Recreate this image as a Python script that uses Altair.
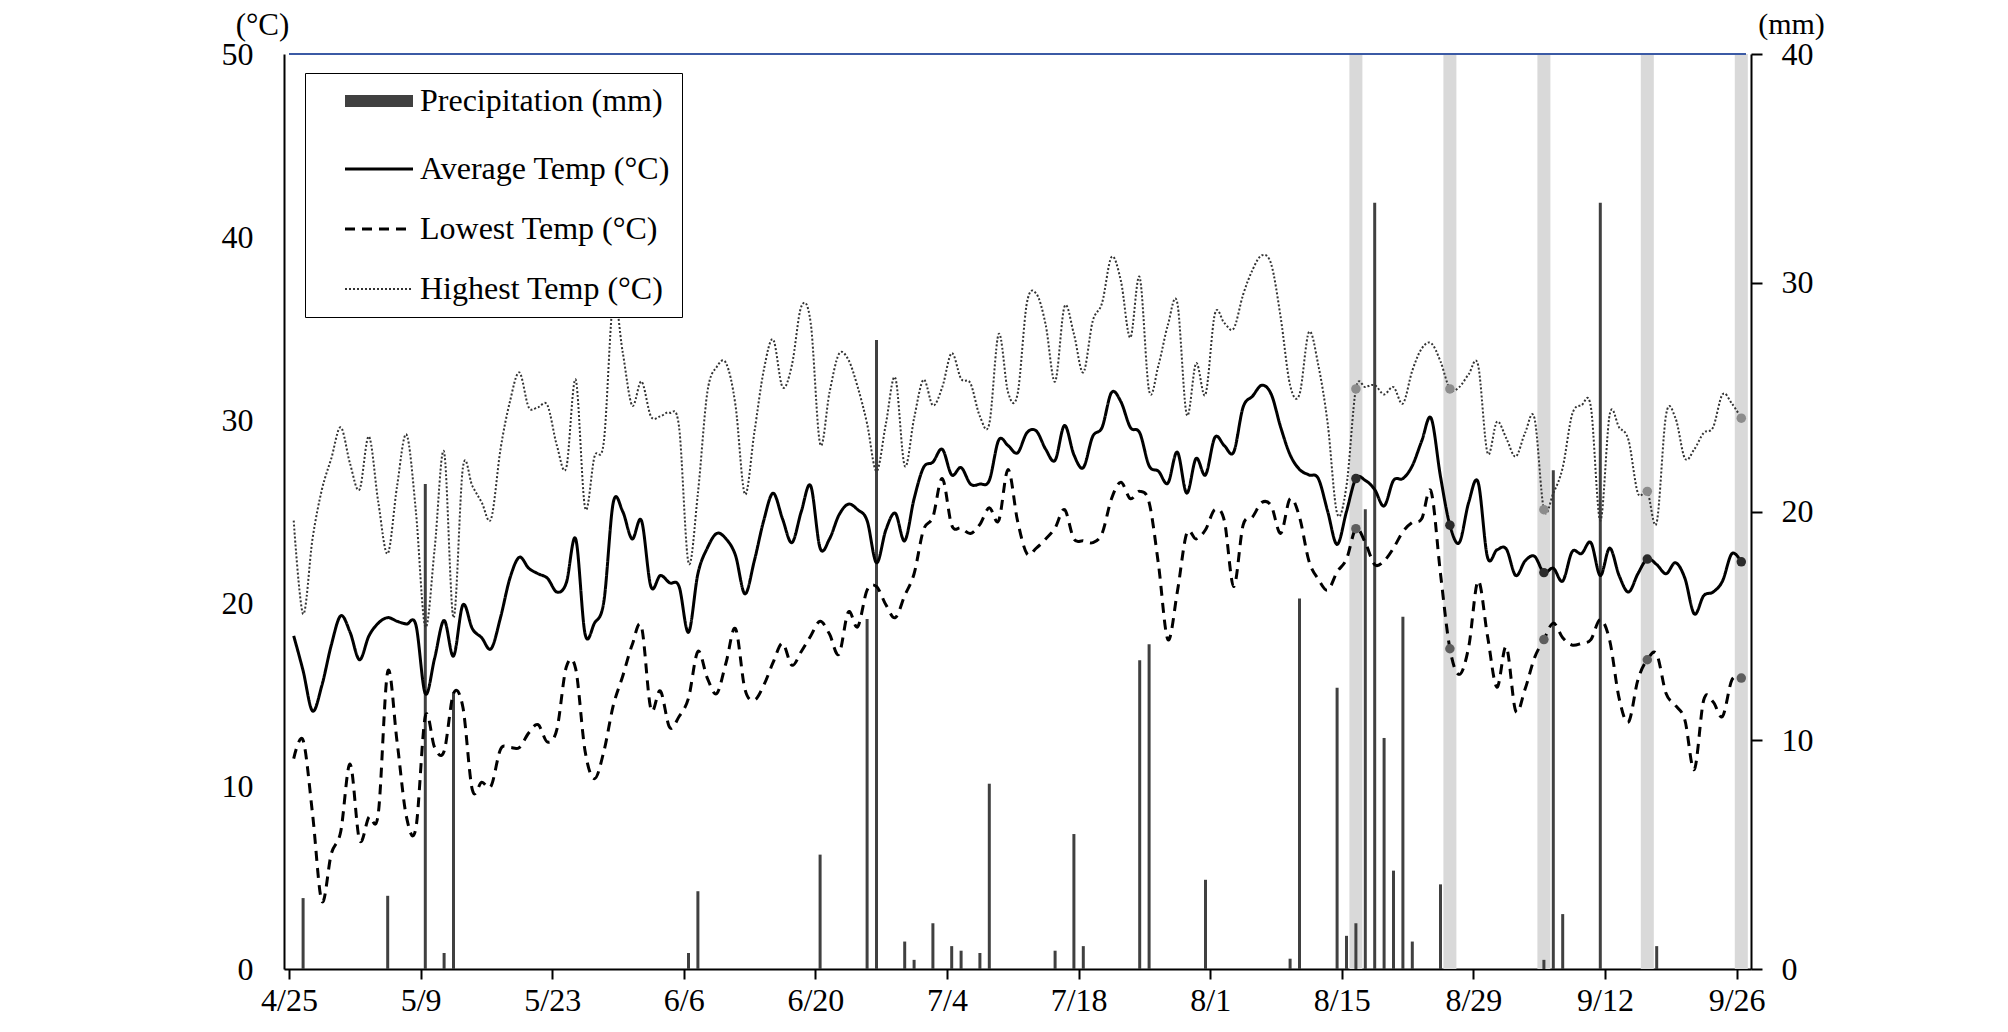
import json
import altair as alt
import pandas as pd

FONT = "Liberation Serif"

tick_labels = ["4/25", "5/9", "5/23", "6/6", "6/20", "7/4", "7/18", "8/1",
               "8/15", "8/29", "9/12", "9/26"]

series_names = ["Precipitation (mm)", "Average Temp (°C)",
                "Lowest Temp (°C)", "Highest Temp (°C)"]

# daily values from 4/25 (index 0) to 9/26 (index 154)
high_temp = [
    24.5, 19.4, 23.5, 26.2, 27.9, 29.6, 27.6, 26.2, 29.1, 25.5,
    22.7, 26.4, 29.2, 25.0, 18.7, 23.0, 28.25, 19.2, 27.4, 26.4,
    25.5, 24.6, 28.4, 31.0, 32.6, 30.7, 30.7, 30.8, 28.6, 27.4,
    32.2, 25.2, 28.0, 28.85, 36.6, 33.7, 30.8, 32.1, 30.2, 30.2,
    30.4, 29.6, 22.2, 26.0, 31.5, 32.9, 33.1, 30.8, 25.95, 29.3,
    32.7, 34.4, 31.8, 33.0, 36.2, 35.3, 28.7, 31.5, 33.6, 33.3,
    31.8, 29.8, 27.2, 29.8, 32.3, 27.5, 30.1, 32.2, 30.8, 31.8,
    33.65, 32.25, 32.0, 30.2, 29.8, 34.7, 31.5, 31.4, 36.4, 36.9,
    35.2, 32.1, 36.2, 34.7, 32.6, 35.4, 36.4, 38.9, 37.6, 34.5,
    37.8, 31.6, 33.0, 35.2, 36.4, 30.3, 33.1, 31.4, 35.8, 35.3,
    35.0, 36.85, 38.2, 39.0, 38.5, 35.6, 31.9, 31.4, 34.8, 33.0,
    29.8, 24.9, 26.4, 31.7, 31.8, 31.9, 31.4, 31.8, 30.9, 32.7,
    33.9, 34.2, 33.2, 31.7, 31.8, 32.5, 33.0, 28.2, 29.9, 29.0,
    28.0, 29.3, 30.1, 25.1, 26.0, 27.4, 30.3, 30.8, 30.7, 24.5,
    30.3, 29.6, 28.9, 26.0, 26.1, 24.4, 30.3, 30.1, 27.9, 28.4,
    29.3, 29.6, 31.4, 30.9, 30.1,
]

avg_temp = [
    18.2, 16.3, 14.1, 15.5, 17.7, 19.3, 18.4, 16.9, 18.2, 18.9,
    19.2, 19.0, 18.85, 18.8, 15.05, 17.0, 19.05, 17.1, 19.9, 18.6,
    18.1, 17.5, 19.2, 21.35, 22.5, 21.9, 21.6, 21.35, 20.6, 21.1,
    23.5, 18.3, 18.9, 20.1, 25.5, 25.0, 23.5, 24.5, 20.9, 21.5,
    21.1, 20.9, 18.4, 21.6, 23.0, 23.8, 23.5, 22.6, 20.5, 22.3,
    24.5, 26.0, 24.6, 23.3, 25.0, 26.4, 23.0, 23.5, 24.8, 25.4,
    25.1, 24.5, 22.2, 24.0, 24.9, 23.4, 25.7, 27.4, 27.7, 28.4,
    27.0, 27.4, 26.5, 26.5, 26.7, 28.9, 28.6, 28.2, 29.3, 29.4,
    28.4, 27.8, 29.7, 28.1, 27.4, 29.1, 29.6, 31.5, 31.0, 29.6,
    29.3, 27.5, 27.2, 26.55, 28.25, 26.0, 27.9, 27.0, 29.05, 28.6,
    28.25, 30.7, 31.3, 31.9, 31.4, 29.6, 28.1, 27.3, 27.0, 26.8,
    25.0, 23.2, 25.0, 26.8, 26.7, 26.2, 25.3, 26.7, 26.8, 27.5,
    28.85, 30.1, 26.9, 24.25, 23.3, 25.5, 26.6, 22.5, 22.9, 22.95,
    21.5, 22.3, 22.55, 21.66, 21.9, 21.2, 22.8, 22.7, 23.3, 21.5,
    23.0, 21.5, 20.6, 21.6, 22.4, 22.1, 21.6, 22.2, 21.35, 19.4,
    20.4, 20.6, 21.2, 22.7, 22.25,
]

low_temp = [
    11.5, 12.5, 8.5, 3.7, 6.3, 7.5, 11.2, 7.05, 8.3, 8.5,
    16.25, 12.4, 8.3, 7.7, 13.8, 12.1, 11.9, 15.05, 14.3, 9.8,
    10.2, 10.0, 12.0, 12.1, 12.1, 12.9, 13.35, 12.4, 13.1, 16.5,
    16.4, 11.9, 10.4, 11.9, 14.4, 16.0, 17.7, 18.7, 14.2, 15.2,
    13.2, 13.8, 14.8, 17.35, 15.9, 15.05, 16.75, 18.6, 15.3, 14.7,
    15.5, 16.75, 17.8, 16.6, 17.35, 18.2, 19.0, 18.3, 17.2, 19.5,
    18.7, 20.7, 20.9, 19.9, 19.2, 20.4, 21.6, 24.0, 24.7, 26.8,
    24.25, 24.1, 23.8, 24.3, 25.2, 24.5, 27.3, 24.5, 22.7, 23.0,
    23.5, 24.1, 25.1, 23.5, 23.4, 23.3, 23.8, 25.7, 26.6, 25.7,
    26.1, 25.5, 22.1, 18.0, 20.6, 23.8, 23.5, 24.0, 25.1, 24.5,
    20.9, 24.25, 24.7, 25.5, 25.3, 23.8, 25.7, 24.7, 22.3, 21.3,
    20.7, 21.7, 22.4, 24.06, 23.3, 22.1, 22.3, 23.0, 23.9, 24.4,
    24.6, 26.1, 21.6, 17.5, 16.1, 17.6, 21.2, 18.2, 15.4, 17.6,
    14.1, 15.3, 17.0, 18.0, 18.9, 18.1, 17.7, 17.8, 18.0, 19.1,
    17.95, 14.8, 13.5, 15.8, 16.9, 17.2, 15.05, 14.4, 13.6, 10.9,
    14.7, 14.6, 13.8, 15.8, 15.9,
]

# precipitation: day index (from 4/25) and amount in mm
precip_day = [1, 10, 14, 16, 17, 42, 43, 56, 61, 62,
              65, 66, 68, 70, 71, 73, 74, 81, 83, 84,
              90, 91, 97, 106, 107, 111, 112, 113, 114, 115,
              116, 117, 118, 119, 122, 133, 134, 135, 139, 145]
precip_mm = [3.1, 3.2, 21.2, 0.7, 12.1, 0.7, 3.4, 5.0, 15.3, 27.5,
             1.2, 0.4, 2.0, 1.0, 0.8, 0.7, 8.1, 0.8, 5.9, 1.0,
             13.5, 14.2, 3.9, 0.45, 16.2, 12.3, 1.45, 2.0, 20.1, 33.5,
             10.1, 4.3, 15.4, 1.2, 3.7, 0.4, 21.8, 2.4, 33.5, 1.0]

# sampling days (grey bands with markers)
sample_days = [113, 123, 133, 144, 154]

# ---------------------------------------------------------------- tables
rows = []
for name, vals in [(series_names[1], avg_temp),
                   (series_names[2], low_temp),
                   (series_names[3], high_temp)]:
    for d, v in enumerate(vals):
        rows.append({"day": d + 0.5, "series": name, "temp": v})
temp_df = pd.DataFrame(rows)
precip_df = pd.DataFrame({"day": [d + 0.5 for d in precip_day], "mm": precip_mm})
band_df = pd.DataFrame({"day": [d + 0.5 for d in sample_days]})
dots_df = temp_df[temp_df["day"].isin(band_df["day"])]
frame_df = pd.DataFrame({"one": [1]})

label_expr = json.dumps(tick_labels) + "[round(datum.value / 14)]"

x_scale = alt.Scale(domain=[0, 155], nice=False, zero=False)
x_axis = alt.Axis(values=list(range(0, 155, 14)), labelExpr=label_expr,
                  title=None, tickSize=10, labelPadding=6,
                  labelFlush=False, labelOverlap=False, orient="bottom")
x_main = alt.X("day:Q", scale=x_scale, axis=x_axis)

t_scale = alt.Scale(domain=[0, 50], nice=False, zero=True)
t_axis = alt.Axis(orient="left", values=[0, 10, 20, 30, 40, 50],
                  title="(°C)", titleAngle=0, titleX=-22, titleY=-44,
                  titleAlign="center", titleBaseline="top", titleFontSize=31,
                  tickSize=0, labelPadding=31, labelFlush=False)
y_temp = alt.Y("temp:Q", scale=t_scale, axis=t_axis)

NB = "\u00a0"
legend = alt.Legend(
    title=None, orient="none", legendX=21, legendY=19,
    labelExpr="datum.label + '" + NB * 5 + "'", labelLimit=700,
    symbolType="M-3.4,0H3.4", symbolSize=400, symbolOffset=46,
    labelOffset=25, rowPadding=28, padding=12,
    strokeColor="black", fillColor="white",
    labelFont=FONT, labelFontSize=32, labelColor="black",
)

# ---------------------------------------------------------------- layers
bands = alt.Chart(band_df).mark_bar(color="#d9d9d9", size=13).encode(
    x=x_main,
    y=alt.Y(datum=50, scale=alt.Scale(domain=[0, 50], nice=False), axis=None),
    y2=alt.Y2(datum=0),
)

precip = alt.Chart(precip_df).mark_bar(color="#404040", size=3).encode(
    x=x_main,
    y=alt.Y("mm:Q", scale=alt.Scale(domain=[0, 40], nice=False),
            axis=alt.Axis(orient="right", values=[0, 10, 20, 30, 40],
                          title="(mm)", titleAngle=0, titleX=40, titleY=-45,
                          titleAlign="center", titleBaseline="top", titleFontSize=30,
                          tickSize=11, labelPadding=19, labelFlush=False)),
)

lines = alt.Chart(temp_df).mark_line(interpolate="cardinal").encode(
    x=x_main,
    y=y_temp,
    color=alt.Color("series:N",
                    scale=alt.Scale(domain=series_names,
                                    range=["#404040", "#000000", "#000000", "#333333"]),
                    legend=legend),
    strokeDash=alt.StrokeDash("series:N",
                              scale=alt.Scale(domain=series_names,
                                              range=[[1, 0], [1, 0], [10, 7], [2, 2]]),
                              legend=legend),
    strokeWidth=alt.StrokeWidth("series:N",
                                scale=alt.Scale(type="ordinal", domain=series_names,
                                                range=[12, 3, 3, 2]),
                                legend=legend),
)

dot_colors = {series_names[1]: "#2b2b2b", series_names[2]: "#5e5e5e",
              series_names[3]: "#8c8c8c"}
dot_layers = []
for name, col in dot_colors.items():
    dot_layers.append(
        alt.Chart(dots_df[dots_df["series"] == name]).mark_circle(
            color=col, size=90, opacity=1).encode(x=x_main, y=y_temp)
    )

top_line = alt.Chart(frame_df).mark_rule(color="#3b5aa5", strokeWidth=2).encode(
    x=alt.X(datum=0, scale=x_scale, axis=x_axis),
    x2=alt.X2(datum=155),
    y=alt.Y(datum=50, scale=t_scale, axis=t_axis),
)

temp_layer = alt.layer(lines, *dot_layers, top_line)

chart = alt.layer(bands, precip, temp_layer).resolve_scale(
    y="independent"
).properties(
    width=1467, height=915,
    padding={"left": 276, "top": 46, "right": 240, "bottom": 50},
    autosize=alt.AutoSizeParams(type="none"),
).configure_view(
    stroke=None
).configure_axis(
    labelFont=FONT, labelFontSize=32, labelColor="black",
    titleFont=FONT, titleFontSize=32, titleFontWeight="normal", titleColor="black",
    domainColor="black", domainWidth=2, tickColor="black", tickWidth=2,
    grid=False, zindex=1,
)

chart.save("out.html", embed_options={"renderer": "svg", "actions": False})
